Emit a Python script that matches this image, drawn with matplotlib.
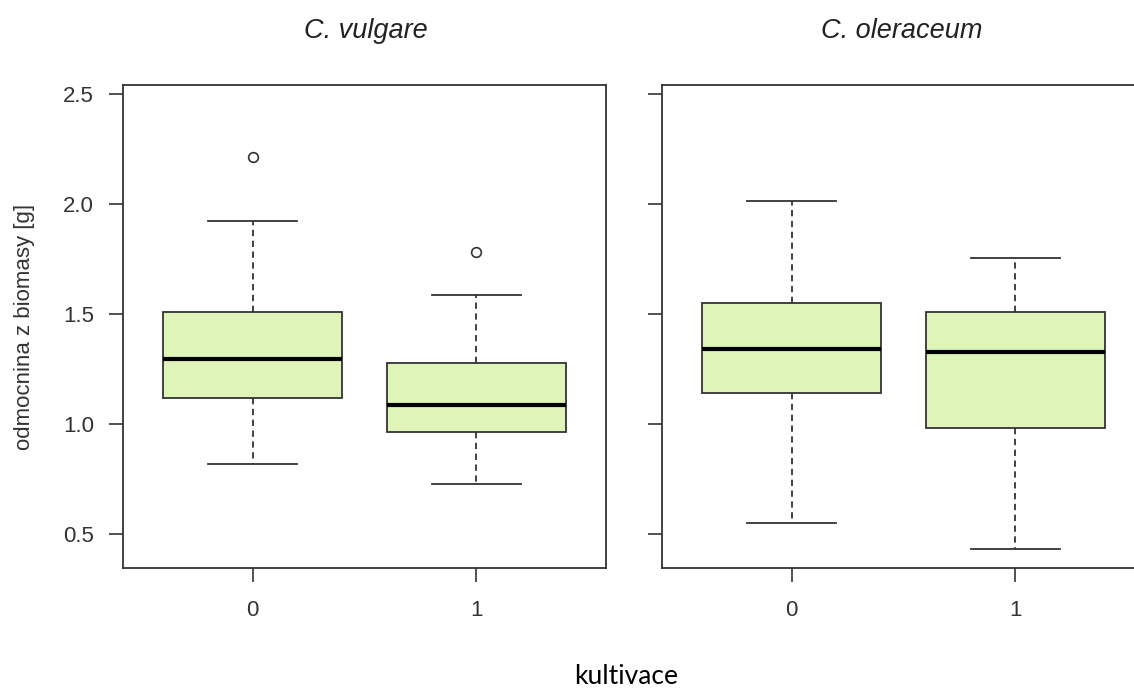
import matplotlib
matplotlib.use("Agg")
import matplotlib.pyplot as plt

titles = ["C. vulgare", "C. oleraceum"]
categories = ["0", "1"]
# per panel, per group: lower whisker, Q1, median, Q3, upper whisker
whislo = [[0.818, 0.727], [0.550, 0.432]]
q1 = [[1.118, 0.964], [1.141, 0.982]]
med = [[1.295, 1.086], [1.341, 1.327]]
q3 = [[1.509, 1.277], [1.550, 1.509]]
whishi = [[1.923, 1.586], [2.014, 1.755]]
fliers = [[[2.214], [1.782]], [[], []]]
yticks = [0.5, 1.0, 1.5, 2.0, 2.5]

plt.rcParams['font.family'] = ['Liberation Sans', 'DejaVu Sans']
FAM = ['Liberation Sans', 'DejaVu Sans']

W, H = 1134, 689
fig = plt.figure(figsize=(W / 100, H / 100), dpi=100)

lc = "#333333"
fill = "#DFF4B8"
panels = [(123, 606), (662, 1145)]
top, bottom = 85, 568
title_x = [366, 902]
for i, (x0, x1) in enumerate(panels):
    ax = fig.add_axes([x0 / W, 1 - bottom / H, (x1 - x0) / W, (bottom - top) / H])
    stats = []
    for j in range(2):
        stats.append(dict(whislo=whislo[i][j], q1=q1[i][j], med=med[i][j],
                          q3=q3[i][j], whishi=whishi[i][j], fliers=fliers[i][j]))
    ax.bxp(stats, positions=[1, 2], widths=0.8, patch_artist=True,
           showfliers=True,
           boxprops=dict(facecolor=fill, edgecolor=lc, linewidth=1.3),
           medianprops=dict(color="black", linewidth=3.0, solid_capstyle="butt"),
           whiskerprops=dict(color=lc, linewidth=1.3, linestyle=(0, (3.5, 2.5))),
           capprops=dict(color=lc, linewidth=1.3),
           capwidths=0.4,
           flierprops=dict(marker="o", markerfacecolor="white", markeredgecolor=lc,
                           markersize=7, markeredgewidth=1.2))
    ax.set_xlim(0.42, 2.58)
    ax.set_ylim(0.3455, 2.541)
    ax.set_xticks([1, 2])
    ax.set_xticklabels(categories, family=FAM)
    ax.set_yticks(yticks)
    if i == 0:
        ax.set_yticklabels([f"{v:.1f}" for v in yticks], family=FAM)
        ax.set_ylabel("odmocnina z biomasy [g]", fontsize=16, color="#333333",
                      labelpad=20, family=FAM)
    else:
        ax.set_yticklabels([])
    ax.tick_params(axis="both", direction="out", length=10, width=1.2, color=lc,
                   labelsize=16, labelcolor="#333333")
    ax.tick_params(axis="x", pad=13)
    ax.tick_params(axis="y", pad=11)
    for s in ax.spines.values():
        s.set_color(lc)
        s.set_linewidth(1.3)
    ax.set_title(titles[i], fontsize=19.5, fontstyle="italic", color="#222222", pad=34,
                 family=FAM, x=(title_x[i] - x0) / (x1 - x0))

fig.text(626 / W, 1 - 684 / H, "kultivace", fontsize=19, family=["Lato", "DejaVu Sans"],
         ha="center", va="baseline", color="black")

fig.savefig("out.png", dpi=100)
